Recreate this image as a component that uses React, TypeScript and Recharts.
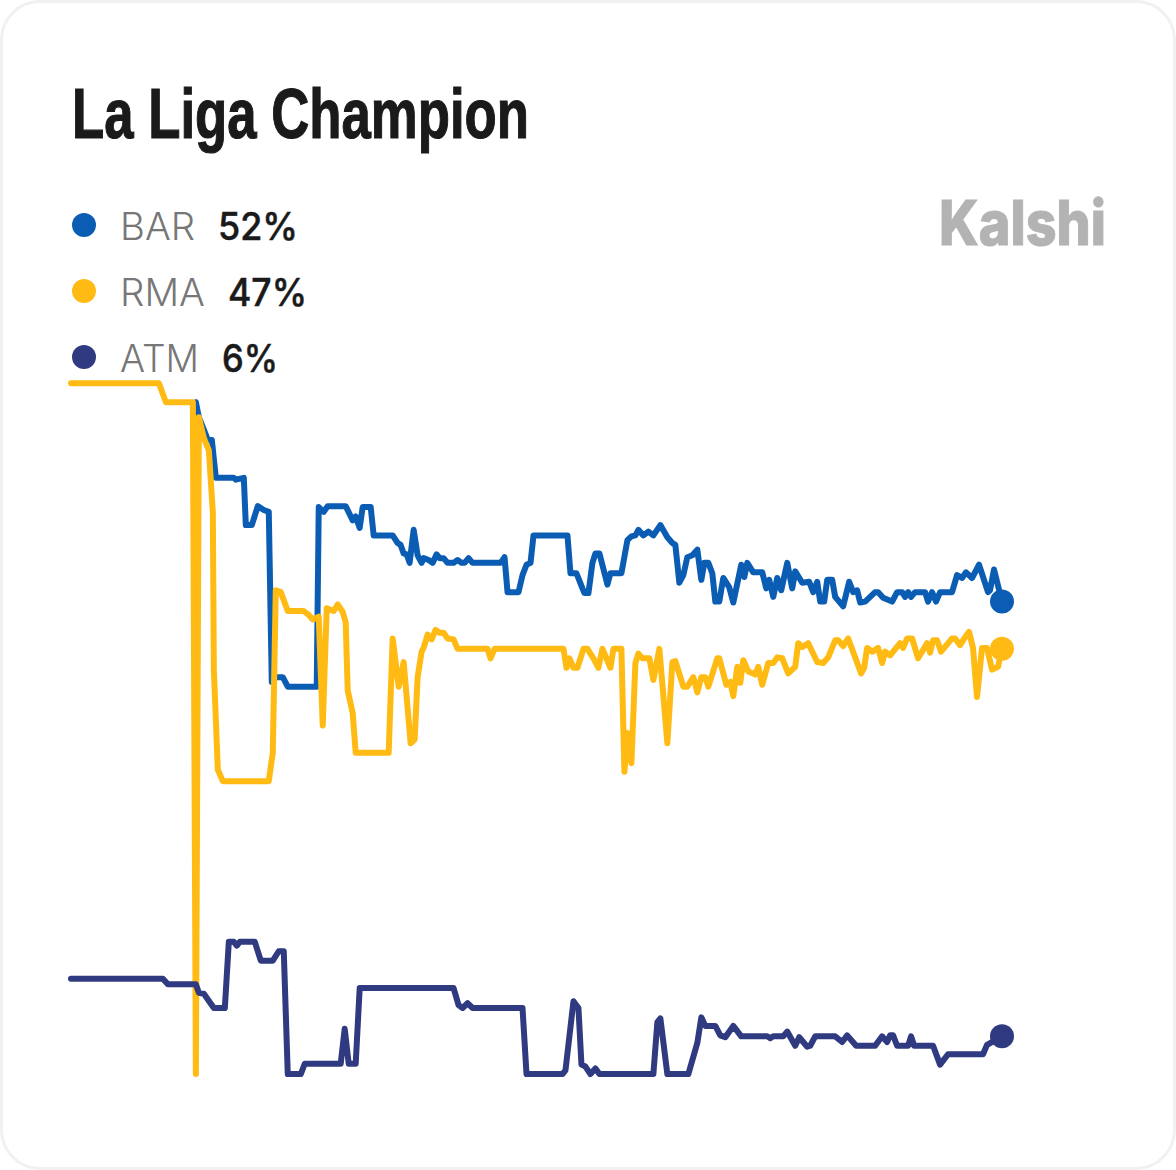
import React from "react";
import { LineChart, Line, XAxis, YAxis } from "recharts";

const TITLE = "La Liga Champion";
const BRAND = "Kalshi";
const NAMES = ["BAR", "RMA", "ATM"];
const LATEST = ["52%", "47%", "6%"];
const COLORS = ["#0B5DB4", "#FFBB14", "#2F3A80"];

// [time step, chance %]
const BAR: number[][] = [[125,73.1],[128,71.5],[133,70.2],[137,69.1],[141,69.1],[145,65.1],[163,65.1],[165,64.9],[173,65.1],[175,60.1],[181,60.1],[187,62.1],[193,61.7],[198,61.5],[201,43.5],[203,44],[212,44],[217,43],[246,43],[248,62],[253,61.5],[257,62.1],[275,62.1],[282,60.6],[285,61],[289,59.8],[292,62],[300,62],[303,59],[322,59],[327,58.2],[330,58],[333,57.1],[336,57],[339,56.1],[343,59.6],[347,56.9],[351,56.1],[353,56.6],[358,56.4],[362,56.1],[366,57],[369,56.6],[373,56.6],[377,56.1],[383,56.1],[387,56.4],[391,56.1],[394,56.1],[398,56.6],[402,56.1],[430,56.1],[434,56.7],[437,53],[448,53],[452,54.8],[456,55.9],[460,56.1],[463,59],[497,59],[500,55],[506,55],[512,53.4],[514,52.9],[518,52.9],[522,56.1],[525,57.1],[529,57.1],[537,53.8],[540,55],[551,55],[557,58.5],[561,58.9],[565,59],[568,59.6],[573,59],[578,59.4],[583,59],[590,60.1],[597,58.8],[602,58.2],[605,58],[609,54],[613,54.8],[617,56.7],[622,56.9],[627,57.5],[631,54.3],[634,56.1],[638,56.1],[642,55],[645,52],[649,52],[653,54.5],[659,53.5],[663,51.9],[671,55.9],[674,54.6],[677,56.1],[683,55.1],[692,55.1],[696,53.4],[699,54.3],[703,52.5],[707,54.5],[711,53.2],[717,56.1],[722,53.4],[725,55.2],[732,54],[739,54.1],[743,53],[747,54.1],[750,52],[754,52],[757,54.3],[762,54.3],[765,52.5],[773,51.5],[779,54.1],[783,53],[787,53.2],[790,51.9],[795,52],[805,53],[808,53],[813,52.4],[822,52],[827,53],[832,53],[835,52.5],[838,53],[841,52.5],[845,53],[855,53],[858,52],[862,53],[866,52],[870,53],[882,53],[887,54.8],[892,54.5],[896,55.1],[902,54.5],[909,55.9],[918,53],[920,53.2],[924,55.4],[932,52]];

const RMA: number[][] = [[0,75.1],[88,75.1],[95,73.1],[122,73.1],[125,2],[128,71.5],[133,69.3],[138,68],[142,61.4],[143,44.8],[147,34.2],[152,33],[198,33],[202,36],[205,53.2],[210,53],[217,51],[233,51],[238,50.6],[242,50.1],[248,50.4],[252,38.9],[256,51.3],[263,51],[267,51.7],[272,50.9],[275,49.8],[277,42.6],[282,40.2],[285,36],[318,36],[322,48.1],[328,43],[333,45.6],[340,37],[344,37.4],[347,44],[351,46.7],[353,47.1],[357,48.5],[361,48],[365,49],[369,48.7],[373,48.7],[377,48.1],[383,48],[387,47],[417,47],[420,46],[424,47],[493,47],[496,45],[499,46],[503,45],[507,45],[513,47],[517,47],[523,46],[528,45],[532,47],[540,45],[543,47],[551,47],[554,34],[557,38.1],[561,34.9],[565,45.5],[568,46.5],[572,46],[579,46],[583,43.7],[589,47],[597,37],[602,45.6],[605,45.7],[613,43],[617,43],[623,44],[627,42.4],[631,44],[635,44],[638,43],[647,46],[649,46],[656,43.2],[660,43.5],[663,42],[667,45.1],[670,43.4],[673,45.8],[678,44.6],[685,44.3],[688,45.1],[692,43.2],[698,45.5],[703,45.5],[707,46.1],[712,46],[718,44.4],[725,45.1],[728,47.6],[732,47.2],[738,47.6],[747,45.6],[753,45.5],[758,46.1],[765,47.9],[768,47.9],[773,47.3],[778,48.1],[791,44.4],[794,45],[797,47.1],[802,46.7],[808,47.1],[812,45.5],[815,46.7],[820,46.3],[830,47.6],[833,47.1],[837,48.1],[842,48.1],[848,46],[857,47.6],[860,46.6],[863,47.9],[867,47.9],[871,46.7],[882,48.1],[885,48.1],[890,47.4],[893,47.9],[899,48.8],[903,47.1],[907,41.9],[912,47.1],[917,47.1],[922,44.8],[928,45.1],[932,47]];

const ATM: number[][] = [[0,12.1],[92,12.1],[97,11.5],[125,11.5],[128,10.6],[133,10.5],[143,9],[154,9],[158,16],[163,16],[166,15.6],[169,16],[184,16],[190,14],[202,14],[208,15],[213,15],[217,2],[230,2],[234,3.1],[270,3.1],[274,6.8],[278,3.1],[285,3.1],[289,11.1],[383,11.1],[388,9.3],[392,9],[397,9.5],[402,9],[452,9],[456,2],[492,2],[495,2.4],[503,9.7],[508,9],[511,3],[515,2.8],[520,2],[525,2.6],[529,2],[583,2],[587,7.5],[590,7.9],[597,2],[618,2],[627,5.3],[631,8],[635,7.1],[645,7.1],[650,6.1],[655,5.9],[663,7.1],[671,6],[697,6],[700,5.8],[703,6],[713,6],[717,6.5],[725,5],[729,5.9],[737,4.9],[740,5],[745,6],[765,6],[772,5.4],[777,6.1],[786,5],[805,5],[812,6],[817,5.4],[820,6.1],[823,6.1],[827,5],[838,5],[841,6],[844,5],[863,5],[870,3],[878,4.1],[913,4.1],[917,5.1],[932,6]];

const SERIES = [BAR, RMA, ATM];

const toRows = (pairs: number[][]) => pairs.map(([t, v]) => ({ t, v }));

const endDot = (color: string, last: number) => (p: any) =>
  p.index === last ? (
    <circle key="end" cx={p.cx} cy={p.cy} r={12} fill={color} />
  ) : (
    <g key={p.index} />
  );

const LEGEND_Y = [225, 291, 357];
const VALUE_X = [218, 228, 222];
const VALUE_W = [80, 79, 56];
const NAME_W = [75, 85, 79];

export default function App() {
  return (
    <div style={{ position: "absolute", left: 0, top: 0, width: 1176, height: 1170, background: "#fff", overflow: "hidden" }}>
      <div style={{ position: "absolute", left: 0, top: 0, width: 1170, height: 1164, border: "3px solid #F1F1F1", borderRadius: 40 }} />
      <svg width={1176} height={1170} style={{ position: "absolute", left: 0, top: 0 }}>
        <text x={72} y={138} fontFamily="'Liberation Sans Narrow', 'Liberation Sans', sans-serif" fontWeight={700} fontSize={71} fill="#1A1A1A" stroke="#1A1A1A" strokeWidth={1.2} textLength={457} lengthAdjust="spacingAndGlyphs">{TITLE}</text>
        <text x={939} y={245} fontFamily="Inter, sans-serif" fontWeight={800} fontSize={62} fill="#B3B3B3" stroke="#B3B3B3" strokeWidth={1} textLength={167} lengthAdjust="spacingAndGlyphs">{BRAND}</text>
        {NAMES.map((n, i) => (
          <g key={n}>
            <circle cx={84} cy={LEGEND_Y[i]} r={12} fill={COLORS[i]} />
            <text x={120} y={LEGEND_Y[i] + 15} fontFamily="Inter, sans-serif" fontWeight={300} fontSize={38} fill="#777777" textLength={NAME_W[i]} lengthAdjust="spacingAndGlyphs">{n}</text>
            <text x={VALUE_X[i]} y={LEGEND_Y[i] + 15} fontFamily="Inter, sans-serif" fontWeight={500} fontSize={38} fill="#1A1A1A" stroke="#1A1A1A" strokeWidth={0.5} textLength={VALUE_W[i]} lengthAdjust="spacingAndGlyphs">{LATEST[i]}</text>
          </g>
        ))}
      </svg>
      <div style={{ position: "absolute", left: 0, top: 0 }}>
        <LineChart width={1176} height={1170} margin={{ left: 71, right: 174, top: 148, bottom: 77 }}>
          <XAxis type="number" dataKey="t" domain={[0, 932]} hide />
          <YAxis type="number" domain={[0, 100]} hide />
          {SERIES.map((s, i) => (
            <Line
              key={NAMES[i]}
              name={NAMES[i]}
              data={toRows(s)}
              dataKey="v"
              type="linear"
              stroke={COLORS[i]}
              strokeWidth={6}
              strokeLinejoin="round"
              strokeLinecap="round"
              dot={endDot(COLORS[i], s.length - 1)}
              activeDot={false}
              isAnimationActive={false}
            />
          ))}
        </LineChart>
      </div>
    </div>
  );
}
